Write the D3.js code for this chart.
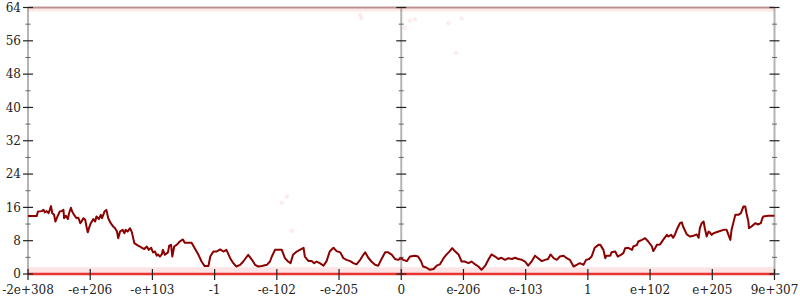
<!DOCTYPE html>
<html>
<head>
<meta charset="utf-8">
<script src="https://cdn.jsdelivr.net/npm/d3@7"></script>
<style>
  body { margin: 0; background: #fff; }
  svg { display: block; }
  text { font-family: "DejaVu Serif", serif; font-size: 12px; fill: #222; }
</style>
</head>
<body>
<div id="chart"></div>
<script>
// tick labels along the (ordered) double line, one per sixth of the half range
const xTickPos = [-6, -5, -4, -3, -2, -1, 0, 1, 2, 3, 4, 5, 6]
const xTickLabels = ['-2e+308', '-e+206', '-e+103', '-1', '-e-102', '-e-205', '0',
  'e-206', 'e-103', '1', 'e+102', 'e+205', '9e+307']
const yMajor = [0, 8, 16, 24, 32, 40, 48, 56, 64]
const yMinor = [4, 12, 20, 28, 36, 44, 52, 60]
const axisAt = [-6, 0, 6]

// running error curve (position on axis, error bits)
const errX = [-6.00, -5.86, -5.84, -5.78, -5.75, -5.73, -5.70, -5.67, -5.65, -5.63, -5.61, -5.58, -5.56, -5.52, -5.49, -5.46, -5.43, -5.42, -5.39, -5.36,
  -5.34, -5.31, -5.29, -5.26, -5.22, -5.19, -5.16, -5.14, -5.11, -5.08, -5.06, -5.04, -5.02, -4.99, -4.95, -4.92, -4.90, -4.86, -4.83, -4.81,
  -4.77, -4.74, -4.71, -4.67, -4.63, -4.60, -4.57, -4.55, -4.52, -4.48, -4.45, -4.43, -4.40, -4.36, -4.33, -4.29, -4.25, -4.20, -4.16, -4.13,
  -4.09, -4.06, -4.02, -3.99, -3.96, -3.93, -3.91, -3.88, -3.85, -3.83, -3.80, -3.75, -3.73, -3.70, -3.68, -3.65, -3.61, -3.56, -3.51, -3.48,
  -3.42, -3.37, -3.32, -3.26, -3.21, -3.16, -3.10, -3.07, -3.02, -2.97, -2.91, -2.86, -2.81, -2.75, -2.70, -2.65, -2.59, -2.54, -2.48, -2.46,
  -2.40, -2.35, -2.30, -2.24, -2.16, -2.11, -2.08, -2.03, -1.98, -1.92, -1.90, -1.87, -1.82, -1.78, -1.74, -1.68, -1.63, -1.57, -1.55, -1.49,
  -1.44, -1.40, -1.36, -1.31, -1.25, -1.20, -1.15, -1.09, -1.04, -0.98, -0.93, -0.88, -0.82, -0.77, -0.72, -0.66, -0.61, -0.58, -0.53, -0.48,
  -0.42, -0.37, -0.31, -0.26, -0.21, -0.15, -0.10, -0.05, 0.00, 0.03, 0.09, 0.14, 0.22, 0.27, 0.32, 0.35, 0.41, 0.46, 0.52, 0.57,
  0.62, 0.68, 0.73, 0.78, 0.82, 0.86, 0.92, 0.97, 1.02, 1.08, 1.13, 1.19, 1.24, 1.29, 1.35, 1.40, 1.45, 1.51, 1.56, 1.61,
  1.67, 1.72, 1.78, 1.83, 1.88, 1.94, 1.99, 2.04, 2.10, 2.15, 2.20, 2.26, 2.31, 2.36, 2.40, 2.45, 2.50, 2.55, 2.61, 2.66,
  2.71, 2.77, 2.82, 2.87, 2.93, 2.97, 3.02, 3.06, 3.11, 3.17, 3.20, 3.25, 3.28, 3.30, 3.36, 3.38, 3.44, 3.48, 3.53, 3.57,
  3.60, 3.65, 3.71, 3.73, 3.79, 3.81, 3.87, 3.92, 3.97, 4.03, 4.05, 4.08, 4.11, 4.16, 4.21, 4.27, 4.29, 4.34, 4.37, 4.40,
  4.44, 4.48, 4.51, 4.53, 4.59, 4.64, 4.70, 4.75, 4.78, 4.80, 4.83, 4.86, 4.88, 4.91, 4.94, 4.96, 4.99, 5.02, 5.10, 5.18,
  5.23, 5.26, 5.29, 5.31, 5.37, 5.42, 5.46, 5.50, 5.53, 5.55, 5.58, 5.59, 5.63, 5.69, 5.74, 5.78, 5.80, 5.82, 5.90, 6.00]
const errV = [13.9, 13.9, 15.0, 15.1, 15.4, 14.8, 15.1, 14.6, 15.4, 16.3, 14.6, 14.2, 12.6, 14.0, 15.0, 15.1, 15.4, 13.4, 14.0, 13.2,
  14.6, 15.9, 15.0, 14.2, 13.4, 13.5, 12.2, 12.6, 13.4, 13.0, 11.4, 10.0, 11.0, 12.2, 13.2, 12.6, 13.8, 13.2, 14.2, 13.4,
  15.0, 15.4, 13.4, 12.2, 11.4, 11.0, 10.2, 8.6, 10.2, 10.6, 9.8, 10.6, 10.2, 11.0, 10.0, 7.4, 7.0, 6.6, 6.2, 6.0,
  6.6, 5.8, 6.3, 5.2, 5.4, 4.4, 4.7, 4.2, 4.7, 5.8, 4.6, 5.2, 6.8, 7.0, 4.2, 6.6, 7.0, 7.8, 8.3, 7.5,
  7.5, 7.5, 6.2, 4.6, 3.0, 1.9, 1.9, 4.2, 5.4, 5.4, 5.9, 5.4, 5.8, 3.8, 2.6, 1.8, 2.2, 3.0, 4.2, 4.6,
  3.4, 2.2, 1.8, 1.9, 2.2, 3.0, 4.2, 5.8, 5.8, 5.8, 5.0, 3.8, 3.0, 2.6, 4.6, 5.4, 5.8, 6.3, 4.2, 3.1,
  3.1, 2.6, 3.0, 2.6, 2.0, 3.1, 5.4, 6.3, 5.5, 5.2, 3.8, 3.4, 3.1, 2.6, 2.3, 3.4, 4.6, 5.2, 3.9, 3.0,
  2.2, 2.0, 3.8, 5.2, 5.2, 4.6, 3.6, 3.4, 3.8, 3.4, 3.1, 4.2, 4.4, 4.2, 3.0, 1.8, 1.5, 1.0, 1.2, 2.0,
  2.3, 3.8, 4.7, 5.5, 6.2, 5.5, 4.7, 3.0, 3.0, 2.6, 3.0, 2.3, 1.8, 1.0, 2.0, 3.4, 4.7, 4.2, 3.6, 3.9,
  3.4, 3.8, 3.6, 3.9, 3.6, 3.4, 3.0, 2.0, 3.1, 4.4, 3.8, 3.1, 3.4, 3.6, 4.7, 3.8, 3.4, 4.2, 4.4, 3.8,
  3.4, 1.8, 2.2, 2.6, 2.2, 3.4, 3.6, 4.2, 6.3, 7.0, 7.0, 5.8, 3.8, 4.4, 4.4, 5.2, 5.4, 4.2, 4.6, 5.0,
  6.2, 6.3, 5.8, 6.6, 7.0, 7.8, 8.2, 8.6, 7.8, 6.6, 5.5, 6.2, 7.0, 7.1, 8.2, 9.4, 9.0, 9.4, 8.7, 9.5,
  11.0, 12.2, 12.4, 11.4, 9.5, 9.0, 9.2, 9.5, 8.7, 11.0, 12.2, 12.6, 11.0, 9.0, 10.2, 10.0, 9.4, 9.8, 10.2, 10.6,
  10.6, 9.4, 8.2, 10.6, 14.2, 14.2, 14.6, 16.2, 16.2, 14.6, 12.6, 11.0, 11.4, 12.2, 11.9, 12.2, 13.2, 13.8, 14.0, 14.0]

// single samples: most land on 0 or 64, a few scatter in between
const sampleBands = [0, 64]
const bandSpread = 1.6
const strayX = [-1.92, -1.84, -1.76, -0.66, -0.64, 0.06, 0.14, 0.22, 0.76, 0.88, 0.97]
const strayV = [17.1, 18.6, 10.4, 62.2, 61.4, 59.1, 60.9, 61.2, 60.2, 53.1, 61.4]

const w = 800, h = 300
const x = d3.scaleLinear().domain([-6, 6]).range([28, 774.5])
const y = d3.scaleLinear().domain([0, 64]).range([274, 7.5])

const svg = d3.select('#chart').append('svg').attr('width', w).attr('height', h)

// frame: vertical axes + top edge
svg.append('g').selectAll('line').data(axisAt).join('line')
  .attr('x1', d => x(d)).attr('x2', d => x(d))
  .attr('y1', y(64)).attr('y2', y(0))
  .attr('stroke', '#b4b4b4').attr('stroke-width', 2)
svg.append('line')
  .attr('x1', x(-6)).attr('x2', x(6)).attr('y1', y(64)).attr('y2', y(64))
  .attr('stroke', '#b4b4b4').attr('stroke-width', 2)

// sample bands (0 and 64)
svg.append('rect')
  .attr('x', x(-6)).attr('width', x(6) - x(-6))
  .attr('y', y(bandSpread)).attr('height', y(0) - y(bandSpread))
  .attr('fill', '#f04040').attr('opacity', 0.15)
svg.append('rect')
  .attr('x', x(-6)).attr('width', x(6) - x(-6))
  .attr('y', y(64)).attr('height', y(64 - bandSpread * 0.6) - y(64))
  .attr('fill', '#f04040').attr('opacity', 0.12)
svg.append('g').selectAll('line').data(sampleBands).join('line')
  .attr('x1', x(-6)).attr('x2', x(6))
  .attr('y1', d => y(d)).attr('y2', d => y(d))
  .attr('stroke', '#e82020')
  .attr('stroke-width', d => d == 0 ? 2.5 : 1.5)
  .attr('opacity', d => d == 0 ? 0.9 : 0.2)

svg.append('g').selectAll('circle').data(strayX).join('circle')
  .attr('cx', d => x(d)).attr('cy', (d, i) => y(strayV[i])).attr('r', 2.2)
  .attr('fill', '#f04040').attr('opacity', 0.1)

// ticks
let ticks = svg.append('g')
axisAt.forEach(a => {
  ticks.append('g').selectAll('line').data(yMajor).join('line')
    .attr('x1', x(a) - 5).attr('x2', x(a) + 5)
    .attr('y1', d => y(d)).attr('y2', d => y(d))
    .attr('stroke', '#222').attr('stroke-width', 1.2)
  ticks.append('g').selectAll('line').data(yMinor).join('line')
    .attr('x1', x(a) - 2.5).attr('x2', x(a) + 2.5)
    .attr('y1', d => y(d)).attr('y2', d => y(d))
    .attr('stroke', '#666').attr('stroke-width', 1)
})
ticks.append('g').selectAll('line').data(xTickPos).join('line')
  .attr('x1', d => x(d)).attr('x2', d => x(d))
  .attr('y1', y(0) - 5).attr('y2', y(0) + 6)
  .attr('stroke', '#222').attr('stroke-width', 1.2)

// error line
svg.append('path')
  .datum(errX)
  .attr('fill', 'none')
  .attr('stroke', '#8b0000')
  .attr('stroke-width', 2)
  .attr('stroke-linejoin', 'round')
  .attr('d', d3.line().x(d => x(d)).y((d, i) => y(errV[i])))

// labels
svg.append('g').selectAll('text').data(yMajor).join('text')
  .attr('x', x(-6) - 7).attr('y', d => y(d)).attr('dy', '0.35em')
  .attr('text-anchor', 'end')
  .text(d => d)
svg.append('g').selectAll('text').data(xTickPos).join('text')
  .attr('x', d => x(d)).attr('y', 294)
  .attr('text-anchor', 'middle')
  .text((d, i) => xTickLabels[i])
</script>
</body>
</html>
